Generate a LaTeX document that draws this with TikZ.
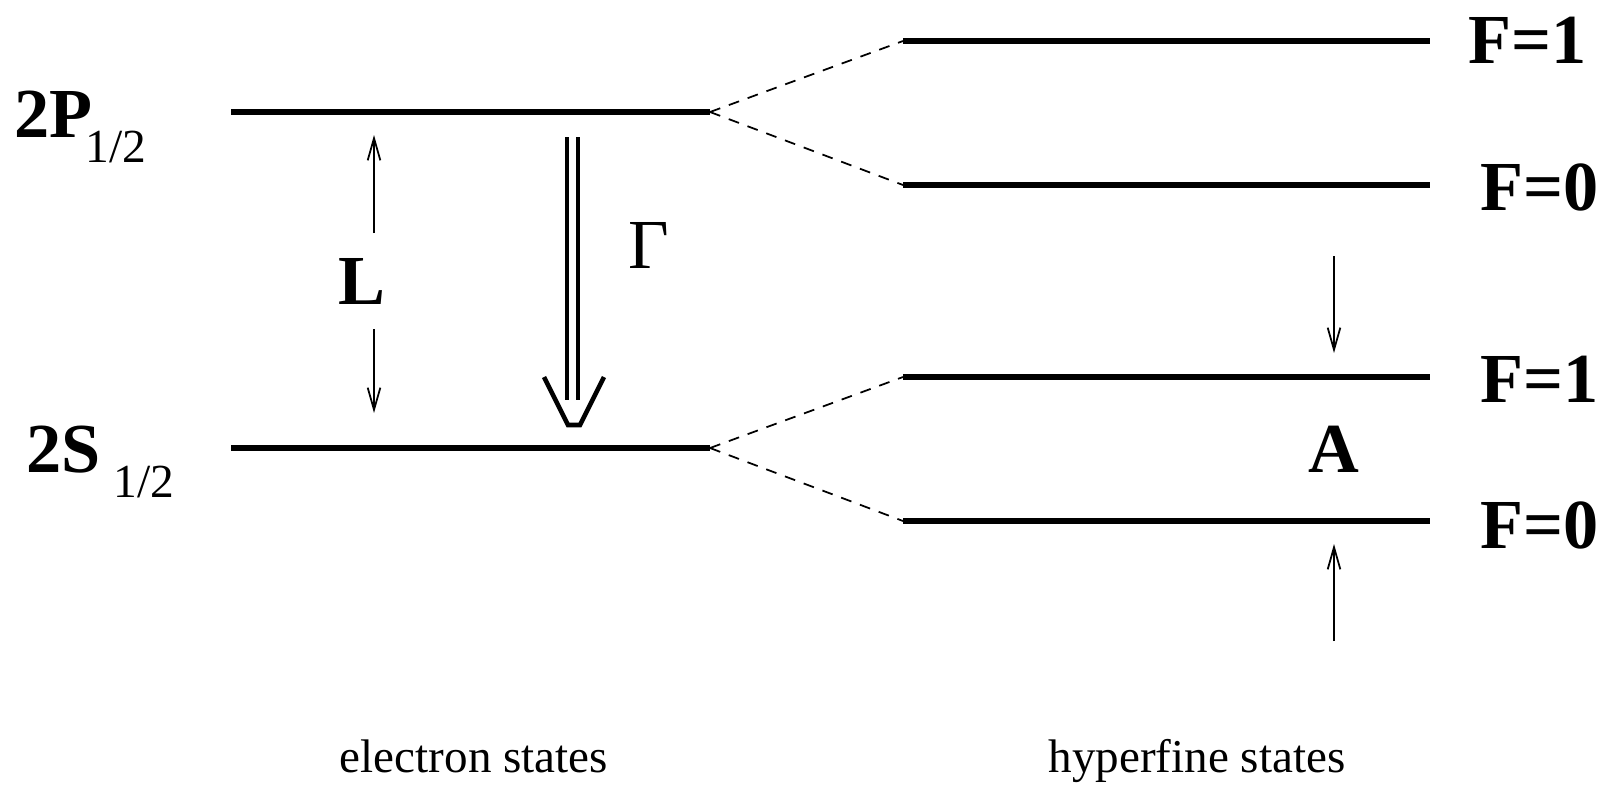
\documentclass[tikz,border=0pt]{standalone}
\usepackage{fontspec}
\setmainfont{Liberation Serif}
\usetikzlibrary{arrows.meta}

\begin{document}
\begin{tikzpicture}[
  level/.style={line width=1.7pt},
  split/.style={line width=0.5pt, dash pattern=on 3.1pt off 2.6pt},
  gap/.style={line width=0.5pt, -{Straight Barb[length=6.3pt,width=3.6pt]}},
  decay/.style={line width=1.1pt, double, double distance=2pt},
  decayhead/.style={line width=1.3pt},
  term/.style={inner sep=0pt, font=\fontsize{20}{24}\selectfont\bfseries},
  caption/.style={inner sep=0pt, font=\fontsize{13.4}{16}\selectfont}
]
  \useasboundingbox (0,0) rectangle (16.03,7.84);

  %% Electron states (left)
  \def\yP{6.72}   % 2P_1/2
  \def\yS{3.36}   % 2S_1/2
  \coordinate (P-l) at (2.31,\yP);
  \coordinate (P-r) at (7.10,\yP);
  \coordinate (S-l) at (2.31,\yS);
  \coordinate (S-r) at (7.10,\yS);
  \draw[level] (P-l) -- (P-r);
  \draw[level] (S-l) -- (S-r);
  \node[term, anchor=base west] (P-lab) at (0.14,6.47)
    {2P\kern-0.07cm\raisebox{-0.25cm}{\normalfont\fontsize{13.5}{16}\selectfont 1/2}};
  \node[term, anchor=base west] (S-lab) at (0.26,3.12)
    {2S\kern0.13cm\raisebox{-0.25cm}{\normalfont\fontsize{13.5}{16}\selectfont 1/2}};

  %% Hyperfine states (right)
  \foreach \name/\y in {Pa/7.43, Pb/5.99, Sa/4.07, Sb/2.63} {
    \coordinate (\name-l) at (9.03,\y);
    \coordinate (\name-r) at (14.30,\y);
    \draw[level] (\name-l) -- (\name-r);
  }
  \node[term, anchor=base west] (Pa-lab) at (14.68,7.21) {F=1};
  \node[term, anchor=base west] (Pb-lab) at (14.80,5.74) {F=0};
  \node[term, anchor=base west] (Sa-lab) at (14.80,3.82) {F=1};
  \node[term, anchor=base west] (Sb-lab) at (14.80,2.36) {F=0};

  % Splitting into hyperfine levels
  \draw[split] (P-r) -- (Pa-l);
  \draw[split] (P-r) -- (Pb-l);
  \draw[split] (S-r) -- (Sa-l);
  \draw[split] (S-r) -- (Sb-l);

  %% Lamb shift L
  \node[term] (L) at (3.62,5.03) {L};
  \coordinate (L-up0) at (3.74,5.51);
  \coordinate (L-up1) at (3.74,6.49);
  \coordinate (L-dn0) at (3.74,4.55);
  \coordinate (L-dn1) at (3.74,3.71);
  \draw[gap] (L-up0) -- (L-up1);
  \draw[gap] (L-dn0) -- (L-dn1);

  %% Decay width Gamma
  \node[inner sep=0pt, font=\fontsize{20}{24}\selectfont] (G) at (6.49,5.39) {Γ};
  \coordinate (G-top) at (5.725,6.47);
  \coordinate (G-end) at (5.725,3.84);
  \coordinate (G-tip) at (5.74,3.59);
  \draw[decay] (G-top) -- (G-end);
  \draw[decayhead] (G-tip) ++(-0.30,0.48) -- ++(0.24,-0.48) -- ++(0.12,0) -- ++(0.24,0.48);

  %% Hyperfine splitting A
  \node[term] (A) at (13.34,3.35) {A};
  \coordinate (A-dn0) at (13.34,5.28);
  \coordinate (A-dn1) at (13.34,4.31);
  \coordinate (A-up0) at (13.34,1.43);
  \coordinate (A-up1) at (13.34,2.40);
  \draw[gap] (A-dn0) -- (A-dn1);
  \draw[gap] (A-up0) -- (A-up1);

  % Captions
  \node[caption, anchor=base] (el) at (4.74,0.12) {electron states};
  \node[caption, anchor=base] (hf) at (11.97,0.12) {hyperfine states};
\end{tikzpicture}
\end{document}
